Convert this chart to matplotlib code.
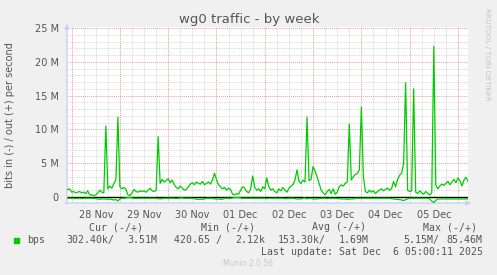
import matplotlib.pyplot as plt
import numpy as np

# hourly samples, hour 0 = 28 Nov 00:00, from -2h up to 6 Dec 05:00
start_hour = -2
out_mbps = [
    1.1, 1.2,
    0.7, 0.8, 0.6, 0.7, 0.8, 0.6, 0.7, 0.5, 0.9, 0.3, 0.3, 0.2, 0.3, 0.6, 1.0, 0.7, 0.6, 10.5, 1.2, 1.6, 1.3, 2.0, 2.5, 11.8,
    1.5, 1.2, 1.4, 1.1, 0.3, 0.2, 0.6, 1.1, 0.8, 0.7, 0.9, 0.8, 0.9, 0.7, 1.0, 1.3, 0.9, 0.8, 1.0, 8.9, 2.0, 2.6, 2.2, 2.4,
    2.7, 2.1, 2.5, 1.8, 1.4, 1.2, 1.6, 1.3, 1.0, 1.1, 1.5, 1.9, 2.1, 1.8, 2.2, 2.0, 1.9, 2.3, 1.8, 2.0, 2.2, 1.9, 2.5, 3.5,
    2.6, 1.8, 1.5, 1.2, 1.4, 1.0, 1.3, 1.1, 0.4, 0.3, 0.5, 0.4, 1.0, 1.5, 1.3, 0.8, 0.6, 1.2, 3.1, 1.4, 1.0, 1.2, 0.8, 1.5,
    1.2, 2.8, 1.5, 1.0, 1.2, 0.8, 0.6, 1.2, 0.9, 1.4, 1.0, 0.7, 1.3, 1.6, 1.8, 2.5, 4.0, 2.3, 2.0, 2.5, 2.2, 11.8, 2.4, 2.6,
    4.5, 3.8, 3.0, 2.0, 1.0, 0.6, 0.3, 0.8, 1.1, 0.5, 1.2, 0.4, 0.7, 1.5, 1.8, 1.6, 2.0, 2.2, 10.8, 2.5, 3.0, 3.3, 3.5, 4.0,
    13.3, 3.0, 0.8, 0.6, 1.0, 0.7, 0.9, 0.5, 0.8, 1.0, 1.2, 0.9, 1.1, 1.3, 1.0, 1.2, 2.3, 1.5, 2.6, 3.2, 3.5, 5.0, 16.9, 1.0,
    0.8, 0.9, 16.0, 0.7, 0.5, 0.9, 0.6, 0.4, 0.8, 0.5, 0.3, 0.6, 22.3, 1.8, 1.2, 1.6, 1.9, 1.7, 2.0, 2.3, 1.8, 2.2, 2.6, 2.1,
    2.8, 2.4, 1.6, 2.5, 2.9, 2.3,
]
in_mbps = [
    -0.2, -0.2,
    -0.2, -0.2, -0.25, -0.2, -0.2, -0.25, -0.2, -0.2, -0.2, -0.2, -0.2, -0.2, -0.25, -0.3, -0.35, -0.3, -0.3, -0.3, -0.35, -0.3, -0.4, -0.45, -0.4, -0.6,
    -0.3, -0.2, -0.2, -0.15, -0.1, -0.1, -0.15, -0.2, -0.2, -0.2, -0.2, -0.2, -0.2, -0.2, -0.2, -0.2, -0.2, -0.2, -0.2, -0.25, -0.3, -0.25, -0.2, -0.2,
    -0.2, -0.2, -0.2, -0.2, -0.25, -0.2, -0.15, -0.15, -0.2, -0.2, -0.2, -0.2, -0.2, -0.25, -0.35, -0.35, -0.35, -0.35, -0.3, -0.2, -0.2, -0.2, -0.2, -0.3,
    -0.3, -0.3, -0.35, -0.35, -0.2, -0.2, -0.2, -0.2, -0.15, -0.1, -0.1, -0.1, -0.15, -0.2, -0.2, -0.2, -0.2, -0.2, -0.2, -0.2, -0.2, -0.2, -0.2, -0.2,
    -0.2, -0.25, -0.2, -0.2, -0.2, -0.2, -0.2, -0.2, -0.2, -0.2, -0.25, -0.25, -0.2, -0.2, -0.2, -0.25, -0.3, -0.3, -0.3, -0.2, -0.15, -0.3, -0.2, -0.2,
    -0.3, -0.3, -0.3, -0.25, -0.2, -0.2, -0.2, -0.25, -0.2, -0.2, -0.2, -0.2, -0.25, -0.25, -0.3, -0.3, -0.3, -0.35, -0.3, -0.3, -0.3, -0.2, -0.2, -0.2,
    -0.2, -0.2, -0.2, -0.2, -0.2, -0.2, -0.2, -0.2, -0.2, -0.2, -0.2, -0.2, -0.2, -0.2, -0.2, -0.25, -0.3, -0.35, -0.35, -0.4, -0.45, -0.55, -0.4, -0.3,
    -0.2, -0.2, -0.2, -0.2, -0.2, -0.2, -0.2, -0.2, -0.2, -0.2, -0.3, -0.6, -0.85, -0.5, -0.3, -0.3, -0.3, -0.3, -0.3, -0.3, -0.3, -0.3, -0.3, -0.3,
    -0.3, -0.3, -0.3, -0.3, -0.3, -0.3,
]
day_labels = ["28 Nov", "29 Nov", "30 Nov", "01 Dec", "02 Dec", "03 Dec", "04 Dec", "05 Dec"]
y_ticks = [0, 5, 10, 15, 20, 25]
y_labels = ["0", "5 M", "10 M", "15 M", "20 M", "25 M"]

headers = ["Cur (-/+)", "Min (-/+)", "Avg (-/+)", "Max (-/+)"]
cur = ["302.40k/", "3.51M"]
mins = ["420.65 /", "2.12k"]
avg = ["153.30k/", "1.69M"]
maxs = ["5.15M/", "85.46M"]
last_update = "Last update: Sat Dec  6 05:00:11 2025"

W, H = 497, 275
green = "#00CC00"
axis_blue = "#C8D0F8"
txt = "#555555"

hours = start_hour + np.arange(len(out_mbps))

fig = plt.figure(figsize=(W / 100, H / 100), dpi=100, facecolor="#F0F0F0")
ax = fig.add_axes([67 / W, 1 - 203 / H, 401 / W, 176 / H], facecolor="white")
ax.set_xlim(-2.3, 197)
ax.set_ylim(-0.9, 25.15)

# grid, rrdtool style
for h in np.arange(0, 198, 6):
    if h % 24:
        ax.axvline(h, color="#D0D0D0", lw=0.6, ls=(0, (1, 1)), zorder=1)
for v in range(0, 26):
    if v % 5:
        ax.axhline(v, color="#D0D0D0", lw=0.6, ls=(0, (1, 1)), zorder=1)
for h in np.arange(0, 198, 24):
    ax.axvline(h, color="#E8A0A0", lw=0.7, ls=(0, (1, 1)), zorder=2)
for v in y_ticks[1:]:
    ax.axhline(v, color="#E8A0A0", lw=0.7, ls=(0, (1, 1)), zorder=2)

ax.axhline(0, color="black", lw=1.0, zorder=3)
ax.plot(hours, out_mbps, color=green, lw=0.9, zorder=4)
ax.plot(hours, in_mbps, color=green, lw=0.9, zorder=4)

for s in ax.spines.values():
    s.set_visible(False)
ax.annotate("", xy=(0, 1.035), xytext=(0, -0.02), xycoords="axes fraction",
            arrowprops=dict(arrowstyle="-|>", color=axis_blue, lw=1, mutation_scale=7), annotation_clip=False)
ax.annotate("", xy=(1.015, 0), xytext=(-0.012, 0), xycoords="axes fraction",
            arrowprops=dict(arrowstyle="-|>", color=axis_blue, lw=1, mutation_scale=7), annotation_clip=False)

ax.set_yticks(y_ticks)
ax.set_yticklabels(y_labels)
ax.set_xticks(np.arange(len(day_labels)) * 24 + 12)
ax.set_xticklabels(day_labels)
ax.tick_params(axis="both", length=0, labelsize=7, labelcolor=txt, pad=6)
ax.tick_params(axis="x", pad=5)

fig.text(249 / W, 1 - 19 / H, "wg0 traffic - by week", ha="center", va="center", fontsize=9.5, color=txt)
fig.text(10 / W, 1 - 115 / H, "bits in (-) / out (+) per second", rotation=90, ha="center", va="center",
         fontsize=7, color=txt)
fig.text(487 / W, 1 - 54 / H, "RRDTOOL / TOBI OETIKER", rotation=270, ha="center", va="center",
         fontsize=5.2, color="#C4C4C4")

mono = dict(family="DejaVu Sans Mono", fontsize=7.1, color=txt, va="center")
for x, t in zip([89.3, 201, 312.3, 422.7], headers):
    fig.text(x / W, 1 - 227 / H, t, ha="left", **mono)
fig.patches.append(plt.Rectangle((14 / W, 1 - 243 / H), 5 / W, 5 / H, transform=fig.transFigure,
                                 color=green, figure=fig))
fig.text(27 / W, 1 - 240 / H, "bps", ha="left", **mono)
for x, t in zip([66.7, 174, 278, 403.3], [cur[0], mins[0], avg[0], maxs[0]]):
    fig.text(x / W, 1 - 240 / H, t, ha="left", **mono)
for x, t in zip([157.3, 265, 369, 482.7], [cur[1], mins[1], avg[1], maxs[1]]):
    fig.text(x / W, 1 - 240 / H, t, ha="right", **mono)
fig.text(482.7 / W, 1 - 252 / H, last_update, ha="right", **mono)
fig.text(248 / W, 1 - 264 / H, "Munin 2.0.56", ha="center", va="center", fontsize=5.5, color="#C8C8C8")

fig.savefig("out.png", dpi=100, facecolor=fig.get_facecolor())
